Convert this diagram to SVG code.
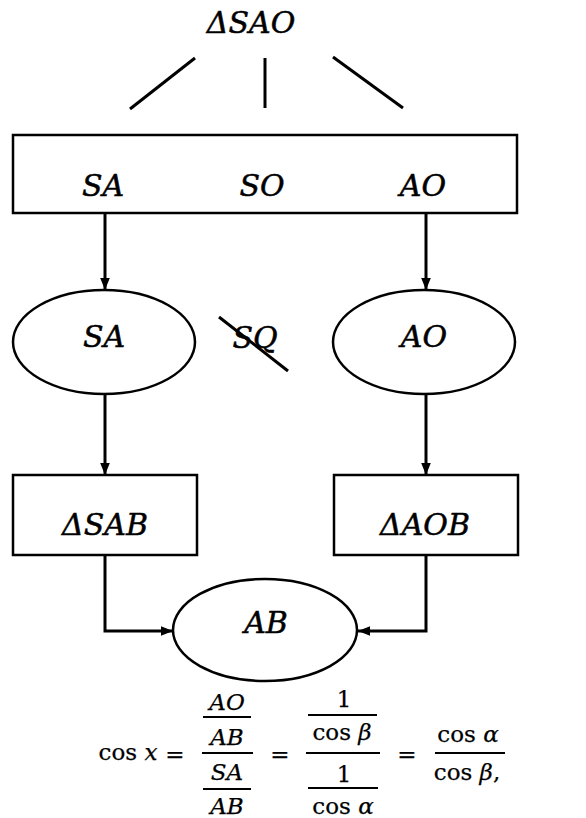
<svg xmlns="http://www.w3.org/2000/svg" width="586" height="818" viewBox="0 0 586 818">
  <style>
    .box { fill: none; stroke: #000; stroke-width: 2.5; }
    .edge { fill: none; stroke: #000; stroke-width: 3; }
    text { font-family: "DejaVu Serif", "Liberation Serif", "Times New Roman", serif; fill: #000; stroke: #000; stroke-width: 0.5; text-anchor: middle; }
    .lbl { font-style: italic; font-size: 30px; }
    .m { font-size: 23px; stroke-width: 0.25; }
    .i { font-style: italic; }
    .bar { stroke: #000; stroke-width: 2; }
  </style>
  <defs>
    <marker id="arr" viewBox="0 0 10 10" refX="10" refY="5" markerWidth="4" markerHeight="4" orient="auto" markerUnits="strokeWidth">
      <path d="M0,1 L10,5 L0,9 Z" fill="#000"/>
    </marker>
  </defs>
  <rect width="586" height="818" fill="#fff"/>

  <g id="n-sao">
    <text class="lbl" x="251" y="33" font-size="28">ΔSAO</text>
  </g>

  <g id="connectors">
    <line class="edge" x1="130" y1="109" x2="195" y2="58"/>
    <line class="edge" x1="265" y1="58" x2="265" y2="108"/>
    <line class="edge" x1="333" y1="57" x2="403" y2="108"/>
    <line class="edge" x1="105" y1="213" x2="105" y2="290" marker-end="url(#arr)"/>
    <line class="edge" x1="426" y1="213" x2="426" y2="290" marker-end="url(#arr)"/>
    <line class="edge" x1="105" y1="395" x2="105" y2="475" marker-end="url(#arr)"/>
    <line class="edge" x1="426" y1="395" x2="426" y2="475" marker-end="url(#arr)"/>
    <path class="edge" d="M105,555 V631 H173" marker-end="url(#arr)"/>
    <path class="edge" d="M426,555 V631 H358" marker-end="url(#arr)"/>
  </g>

  <g id="n-sides">
    <rect class="box" x="13" y="135" width="504" height="78"/>
    <text class="lbl" x="103" y="196">SA</text>
    <text class="lbl" x="262" y="196">SO</text>
    <text class="lbl" x="423" y="196">AO</text>
  </g>

  <g id="n-sa">
    <ellipse class="box" cx="104" cy="342" rx="91" ry="52"/>
    <text class="lbl" x="104" y="347">SA</text>
  </g>

  <g id="n-so">
    <text class="lbl" x="255" y="348">SQ</text>
    <line class="edge" x1="219" y1="317" x2="288" y2="371"/>
  </g>

  <g id="n-ao">
    <ellipse class="box" cx="424" cy="342" rx="91" ry="52"/>
    <text class="lbl" x="424" y="347">AO</text>
  </g>

  <g id="n-sab">
    <rect class="box" x="13" y="475" width="184" height="80"/>
    <text class="lbl" x="105" y="535">ΔSAB</text>
  </g>

  <g id="n-aob">
    <rect class="box" x="334" y="475" width="184" height="80"/>
    <text class="lbl" x="425" y="535">ΔAOB</text>
  </g>

  <g id="n-ab">
    <ellipse class="box" cx="265" cy="630" rx="92" ry="51"/>
    <text class="lbl" x="266" y="633">AB</text>
  </g>

  <!-- cos x = (AO/AB)/(SA/AB) = (1/cos β)/(1/cos α) = cos α / cos β -->
  <g id="formula">
    <text class="m" x="128" y="760">cos <tspan class="i">x</tspan></text>
    <text class="m" x="175" y="762">=</text>

    <text class="m i" x="227" y="710">AO</text>
    <line class="bar" x1="203" y1="717" x2="251" y2="717"/>
    <text class="m i" x="227" y="745">AB</text>
    <line class="bar" x1="202" y1="753" x2="253" y2="753"/>
    <text class="m i" x="227" y="780">SA</text>
    <line class="bar" x1="203" y1="789" x2="251" y2="789"/>
    <text class="m i" x="227" y="814">AB</text>

    <text class="m" x="280" y="762">=</text>

    <text class="m" x="344" y="707">1</text>
    <line class="bar" x1="308" y1="715" x2="377" y2="715"/>
    <text class="m" x="342" y="740">cos <tspan class="i">β</tspan></text>
    <line class="bar" x1="306" y1="753" x2="380" y2="753"/>
    <text class="m" x="344" y="782">1</text>
    <line class="bar" x1="308" y1="788" x2="378" y2="788"/>
    <text class="m" x="343" y="814">cos <tspan class="i">α</tspan></text>

    <text class="m" x="407" y="762">=</text>

    <text class="m" x="468" y="742">cos <tspan class="i">α</tspan></text>
    <line class="bar" x1="435" y1="753" x2="505" y2="753"/>
    <text class="m" x="467" y="780">cos <tspan class="i">β</tspan>,</text>
  </g>
</svg>
